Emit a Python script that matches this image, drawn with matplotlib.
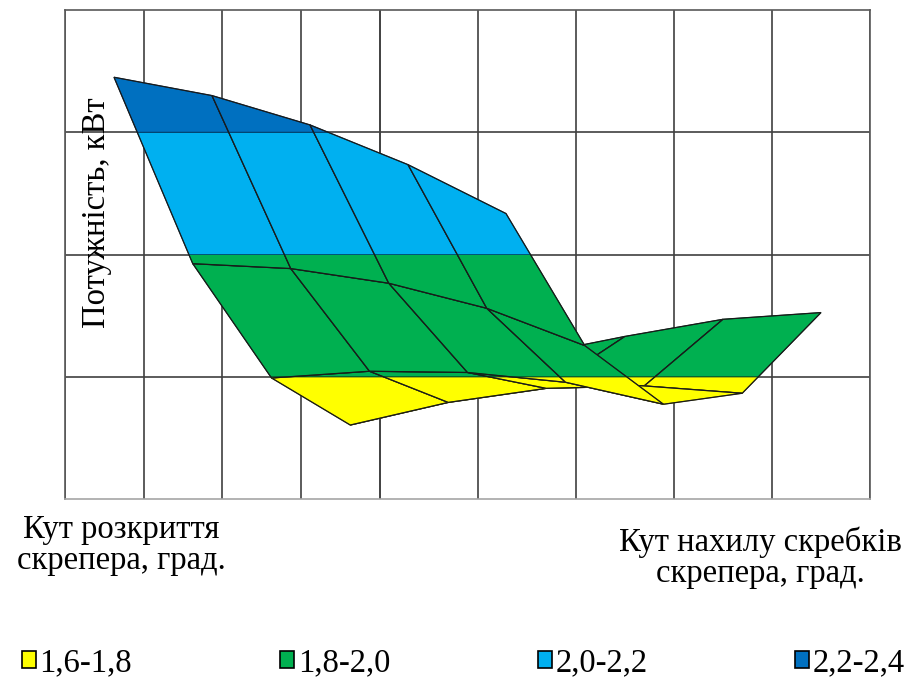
import numpy as np
import matplotlib.pyplot as plt
from matplotlib.patches import Patch

# Power (kW) on the grid: one row per opening angle of the scraper,
# one column per tilt angle of the scrapers
p_row0 = [2.290, 2.260, 2.212, 2.147, 2.067]
p_row1 = [1.985, 1.977, 1.953, 1.912, 1.851]
p_row2 = [1.798, 1.809, 1.807, 1.791, 1.755]
p_row3 = [1.721, 1.758, 1.781, 1.785, 1.773]
p_row4 = [1.794, 1.834, 1.866, 1.894, 1.905]
power = np.array([p_row0, p_row1, p_row2, p_row3, p_row4])

levels = [1.6, 1.8, 2.0, 2.2, 2.4]
band_labels = ['1,6-1,8', '1,8-2,0', '2,0-2,2', '2,2-2,4']

band_colors = ['#FFFF00', '#00B050', '#00B0F0', '#0070C0']
band_edges = ['#6b6b00', '#00502a', '#005577', '#003a66']

# side view of the 3D surface (no elevation): screen x mixes both angle axes,
# screen y is the power itself
ci, cj = 0.7875, 0.98
n_i, n_j = power.shape


def proj_x(i, j):
    return ci * i + cj * (j + 0.5)


def clip(poly, lo, hi):
    # keep the part of the polygon with lo <= y <= hi
    def cut(pts, keep, ylim):
        out = []
        for k in range(len(pts)):
            a, b = pts[k], pts[(k + 1) % len(pts)]
            ina, inb = keep(a[1]), keep(b[1])
            if ina:
                out.append(a)
            if ina != inb:
                t = (ylim - a[1]) / (b[1] - a[1])
                out.append((a[0] + t * (b[0] - a[0]), ylim))
        return out
    pts = cut(poly, lambda y: y >= lo, lo)
    if pts:
        pts = cut(pts, lambda y: y <= hi, hi)
    return pts


plt.rcParams['font.family'] = 'Liberation Serif'
fs = 23.5
fig = plt.figure(figsize=(9.18, 6.82), dpi=100)
ax = fig.add_axes([65 / 918, 1 - 499 / 682, 805 / 918, 489 / 682])
ax.set_xlim(0, ci * (n_i - 1) + cj * n_j)
ax.set_ylim(levels[0], levels[-1])
ax.set_xticks([])
ax.set_yticks([])
for s in ax.spines.values():
    s.set_color('#595959')
    s.set_linewidth(1.2)
ax.spines['bottom'].set_color('#a6a6a6')

# back walls grid
for k in range(n_i):
    ax.axvline(ci * k, color='#404040', lw=1.2, zorder=0)
for k in range(n_j + 1):
    ax.axvline(ci * (n_i - 1) + cj * k, color='#404040', lw=1.2, zorder=0)
for lv in levels[1:-1]:
    ax.axhline(lv, color='#404040', lw=1.2, zorder=0)

# quads from back to front
quads = [(i, j) for i in range(n_i - 1) for j in range(n_j - 1)]
quads.sort(key=lambda q: 0.63 * (q[1] + 0.5) - 0.78 * (q[0] + 0.5))
z = 1
for i, j in quads:
    corners = [(i, j), (i, j + 1), (i + 1, j + 1), (i + 1, j)]
    poly = [(proj_x(a, b), power[a, b]) for a, b in corners]
    for b in range(len(band_labels)):
        piece = clip(poly, levels[b], levels[b + 1])
        if len(piece) >= 3:
            ax.add_patch(plt.Polygon(piece, closed=True, facecolor=band_colors[b],
                                     edgecolor=band_edges[b], lw=0.7, zorder=z))
    ax.add_patch(plt.Polygon(poly, closed=True, fill=False, edgecolor='#1a1a1a',
                             lw=0.9, zorder=z + 0.5))
    z += 1

fig.text(97 / 918, 1 - 213 / 682, 'Потужність, кВт', rotation=90,
         ha='center', va='center', fontsize=fs)
fig.text(121 / 918, 1 - 545 / 682, 'Кут розкриття\nскрепера, град.',
         ha='center', va='center', fontsize=fs, linespacing=1.02)
fig.text(760 / 918, 1 - 558 / 682, 'Кут нахилу скребків\nскрепера, град.',
         ha='center', va='center', fontsize=fs, linespacing=1.02)

handles = [Patch(facecolor=c, edgecolor='black', lw=1.2) for c in band_colors]
fig.legend(handles, band_labels, loc='center', bbox_to_anchor=(0.505, 1 - 663 / 682),
           ncol=4, frameon=False, fontsize=fs, handlelength=0.42, handleheight=0.42,
           handletextpad=0.12, columnspacing=4.53)

plt.savefig('out.png', dpi=100)
